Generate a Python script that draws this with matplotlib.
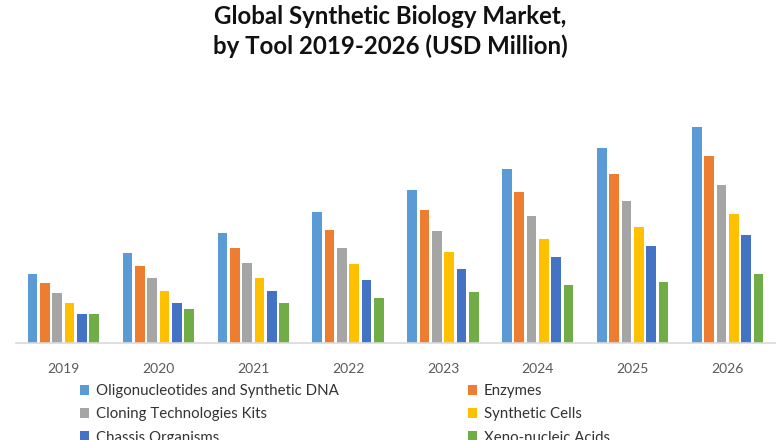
import matplotlib
matplotlib.use("Agg")
import matplotlib.pyplot as plt
import numpy as np

years = ["2019", "2020", "2021", "2022", "2023", "2024", "2025", "2026"]
series_names = [
    "Oligonucleotides and Synthetic DNA",
    "Enzymes",
    "Cloning Technologies Kits",
    "Synthetic Cells",
    "Chassis Organisms",
    "Xeno-nucleic Acids",
]
oligo = [69.3, 90.0, 110.7, 131.3, 153.7, 174.3, 195.0, 216.0]
enzymes = [60.0, 77.7, 95.7, 113.7, 133.0, 151.0, 169.0, 187.0]
cloning = [50.0, 65.0, 80.3, 95.7, 112.0, 127.3, 142.7, 158.0]
cells = [40.7, 52.7, 65.0, 79.0, 91.3, 104.0, 116.3, 129.0]
chassis = [29.3, 40.3, 52.7, 63.7, 74.7, 86.0, 97.0, 108.0]
xeno = [29.3, 34.7, 40.3, 45.7, 51.3, 58.3, 61.0, 69.3]
colors = ["#5B9BD5", "#ED7D31", "#A5A5A5", "#FFC000", "#4472C4", "#70AD47"]

all_series = [oligo, enzymes, cloning, cells, chassis, xeno]

plt.rcParams["font.family"] = ["Lato", "DejaVu Sans"]

fig = plt.figure(figsize=(7.8, 4.4), dpi=100)
fig.patch.set_facecolor("white")
ax = fig.add_axes([16 / 780, 1 - 343.3 / 440, 759 / 780, 230 / 440])

x = np.arange(len(years))
slot = 0.13
width = 0.102
handles = []
for i, (vals, c) in enumerate(zip(all_series, colors)):
    h = ax.bar(x + (i - 2.5) * slot, vals, width=width, color=c, label=series_names[i])
    handles.append(h)

ax.set_xlim(-0.5, len(years) - 0.5)
ax.set_ylim(0, 230)
ax.set_xticks(x)
ax.set_xticklabels(years)
ax.tick_params(axis="x", length=0, pad=14.5, labelsize=10, labelcolor="#595959")
ax.set_yticks([])
for s in ["top", "right", "left"]:
    ax.spines[s].set_visible(False)
ax.spines["bottom"].set_color("#D9D9D9")
ax.spines["bottom"].set_linewidth(1.2)

fig.text(0.5, 1 - 31.5 / 440, "Global Synthetic Biology Market,\nby Tool 2019-2026 (USD Million)",
         ha="center", va="center", fontsize=17.3, fontweight="bold", color="#111111",
         linespacing=1.35)

order = [0, 2, 4, 1, 3, 5]
leg = fig.legend([handles[i] for i in order], [series_names[i] for i in order],
                 loc="upper left", bbox_to_anchor=(80 / 780, 1 - 384 / 440),
                 ncol=2, frameon=False, fontsize=10.8, borderpad=0, borderaxespad=0,
                 handlelength=0.62, handleheight=0.62, handletextpad=0.45,
                 labelspacing=0.62, columnspacing=8.6)
for t in leg.get_texts():
    t.set_color("#333333")

fig.savefig("out.png", dpi=100, facecolor="white")
